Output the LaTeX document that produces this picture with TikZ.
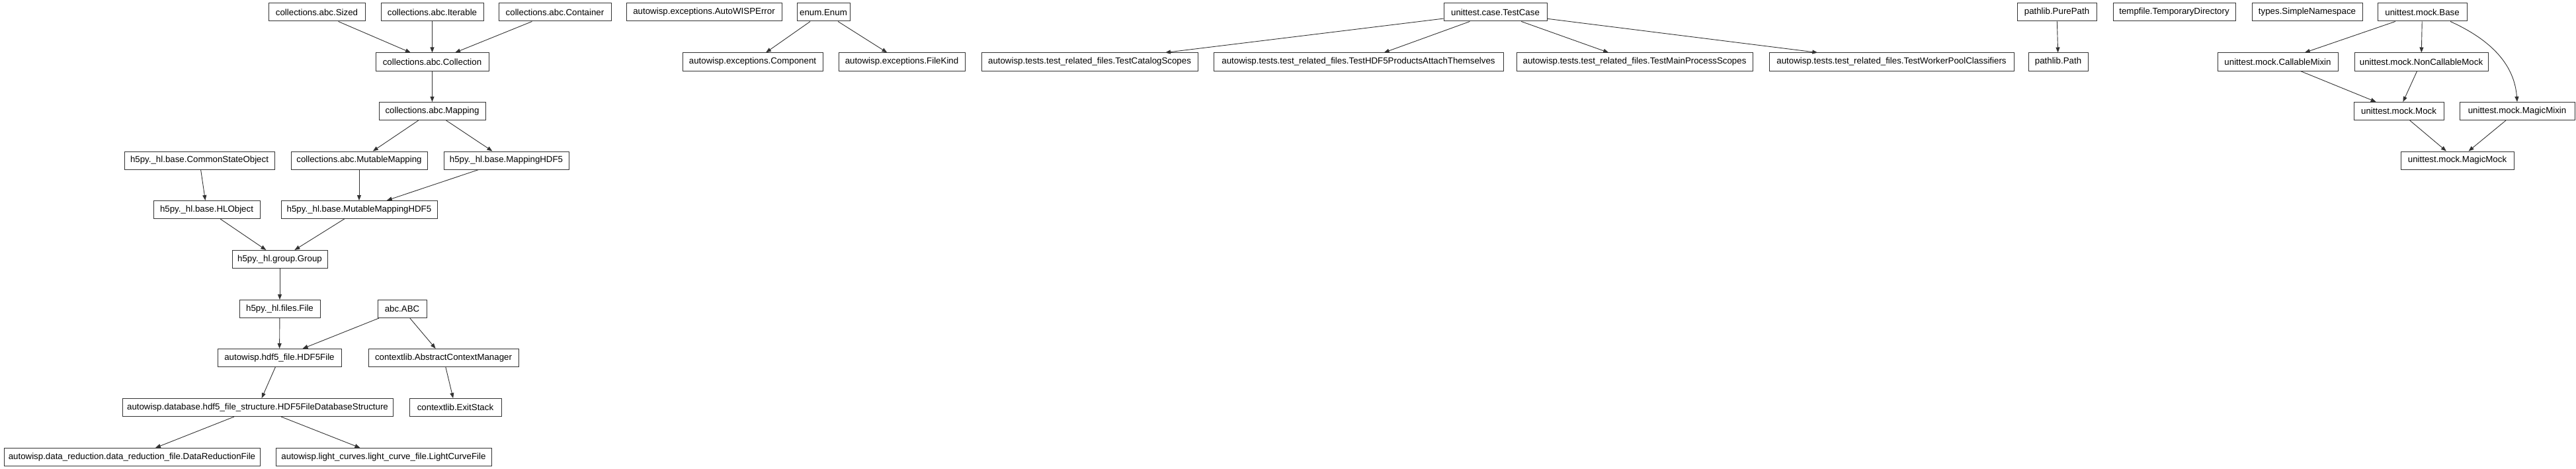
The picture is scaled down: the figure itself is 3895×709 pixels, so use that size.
\documentclass[tikz,border=0pt]{standalone}
\usepackage{fontspec}
\setmainfont{Liberation Sans}
\usetikzlibrary{arrows.meta}
\tikzset{
  cls/.style={draw=black!80, line width=1pt, fill=white, inner sep=0pt, minimum height=27pt,
    font=\fontsize{13.3pt}{16pt}\selectfont},
  edge/.style={draw=black!80, line width=0.9pt, -{Triangle[length=8pt,width=6pt]}}
}
\begin{document}
\begin{tikzpicture}[x=1pt,y=-1pt]
\useasboundingbox (0,0) rectangle (3895,709);
% row 0
\node[cls,minimum width=146pt] (sized) at (479,18.5) {collections.abc.Sized};
\node[cls,minimum width=155pt] (iterable) at (653.5,18.5) {collections.abc.Iterable};
\node[cls,minimum width=170pt] (container) at (839,18.5) {collections.abc.Container};
\node[cls,minimum width=235pt] (autowisperror) at (1064.5,18.5) {autowisp.exceptions.AutoWISPError};
\node[cls,minimum width=80pt] (enum) at (1245,18.5) {enum.Enum};
\node[cls,minimum width=156pt] (testcase) at (2261,18.5) {unittest.case.TestCase};
\node[cls,minimum width=120pt] (purepath) at (3110,18.5) {pathlib.PurePath};
\node[cls,minimum width=185pt] (tempdir) at (3287.5,18.5) {tempfile.TemporaryDirectory};
\node[cls,minimum width=167pt] (simplens) at (3488.5,18.5) {types.SimpleNamespace};
\node[cls,minimum width=135pt] (base) at (3662.5,18.5) {unittest.mock.Base};
% row 1
\node[cls,minimum width=171pt] (collection) at (653.5,93.5) {collections.abc.Collection};
\node[cls,minimum width=212pt] (component) at (1138,93.5) {autowisp.exceptions.Component};
\node[cls,minimum width=191pt] (filekind) at (1363.5,93.5) {autowisp.exceptions.FileKind};
\node[cls,minimum width=327pt] (testcatalog) at (1647.5,93.5) {autowisp.tests.test\_related\_files.TestCatalogScopes};
\node[cls,minimum width=438pt] (testhdf5) at (2054,93.5) {autowisp.tests.test\_related\_files.TestHDF5ProductsAttachThemselves};
\node[cls,minimum width=357pt] (testmain) at (2471.5,93.5) {autowisp.tests.test\_related\_files.TestMainProcessScopes};
\node[cls,minimum width=370pt] (testworker) at (2860,93.5) {autowisp.tests.test\_related\_files.TestWorkerPoolClassifiers};
\node[cls,minimum width=90pt] (path) at (3112,93.5) {pathlib.Path};
\node[cls,minimum width=182pt] (callable) at (3444,93.5) {unittest.mock.CallableMixin};
\node[cls,minimum width=202pt] (noncallable) at (3661,93.5) {unittest.mock.NonCallableMock};
% row 2
\node[cls,minimum width=161pt] (mapping) at (653.5,168) {collections.abc.Mapping};
\node[cls,minimum width=136pt] (mock) at (3627,168) {unittest.mock.Mock};
\node[cls,minimum width=174pt] (magicmixin) at (3806,168) {unittest.mock.MagicMixin};
% row 3
\node[cls,minimum width=227pt] (commonstate) at (301.5,242.5) {h5py.\_hl.base.CommonStateObject};
\node[cls,minimum width=206pt] (mutmapping) at (543,242.5) {collections.abc.MutableMapping};
\node[cls,minimum width=189pt] (mappinghdf5) at (765.5,242.5) {h5py.\_hl.base.MappingHDF5};
\node[cls,minimum width=171pt] (magicmock) at (3715.5,242.5) {unittest.mock.MagicMock};
% row 4
\node[cls,minimum width=161pt] (hlobject) at (312.5,317) {h5py.\_hl.base.HLObject};
\node[cls,minimum width=236pt] (mutmaphdf5) at (543,317) {h5py.\_hl.base.MutableMappingHDF5};
% row 5
\node[cls,minimum width=144pt] (group) at (423,392) {h5py.\_hl.group.Group};
% row 6
\node[cls,minimum width=122pt] (file) at (423,467) {h5py.\_hl.files.File};
\node[cls,minimum width=74pt] (abc) at (608,467) {abc.ABC};
% row 7
\node[cls,minimum width=187pt] (hdf5file) at (422.5,541) {autowisp.hdf5\_file.HDF5File};
\node[cls,minimum width=227pt] (acm) at (670.5,541) {contextlib.AbstractContextManager};
% row 8
\node[cls,minimum width=409pt] (dbstruct) at (389.5,616) {autowisp.database.hdf5\_file\_structure.HDF5FileDatabaseStructure};
\node[cls,minimum width=139pt] (exitstack) at (688.5,616) {contextlib.ExitStack};
% row 9
\node[cls,minimum width=387pt] (drf) at (199.5,691) {autowisp.data\_reduction.data\_reduction\_file.DataReductionFile};
\node[cls,minimum width=326pt] (lcf) at (580,691) {autowisp.light\_curves.light\_curve\_file.LightCurveFile};
% edges
\draw[edge] (sized) -- (collection);
\draw[edge] (iterable) -- (collection);
\draw[edge] (container) -- (collection);
\draw[edge] (collection) -- (mapping);
\draw[edge] (mapping) -- (mutmapping);
\draw[edge] (mapping) -- (mappinghdf5);
\draw[edge] (commonstate) -- (hlobject);
\draw[edge] (mutmapping) -- (mutmaphdf5);
\draw[edge] (mappinghdf5) -- (mutmaphdf5);
\draw[edge] (hlobject) -- (group);
\draw[edge] (mutmaphdf5) -- (group);
\draw[edge] (group) -- (file);
\draw[edge] (file) -- (hdf5file);
\draw[edge] (abc) -- (hdf5file);
\draw[edge] (abc) -- (acm);
\draw[edge] (hdf5file) -- (dbstruct);
\draw[edge] (acm) -- (exitstack);
\draw[edge] (dbstruct) -- (drf);
\draw[edge] (dbstruct) -- (lcf);
\draw[edge] (enum) -- (component);
\draw[edge] (enum) -- (filekind);
\draw[edge] (testcase) -- (testcatalog);
\draw[edge] (testcase) -- (testhdf5);
\draw[edge] (testcase) -- (testmain);
\draw[edge] (testcase) -- (testworker);
\draw[edge] (purepath) -- (path);
\draw[edge] (base) -- (callable);
\draw[edge] (base) -- (noncallable);
\draw[edge] ([xshift=42.5pt]base.south) .. controls (3770,62) and (3802,100) .. (magicmixin.north);
\draw[edge] (callable) -- (mock);
\draw[edge] (noncallable) -- (mock);
\draw[edge] (mock) -- (magicmock);
\draw[edge] (magicmixin) -- (magicmock);
\end{tikzpicture}
\end{document}
